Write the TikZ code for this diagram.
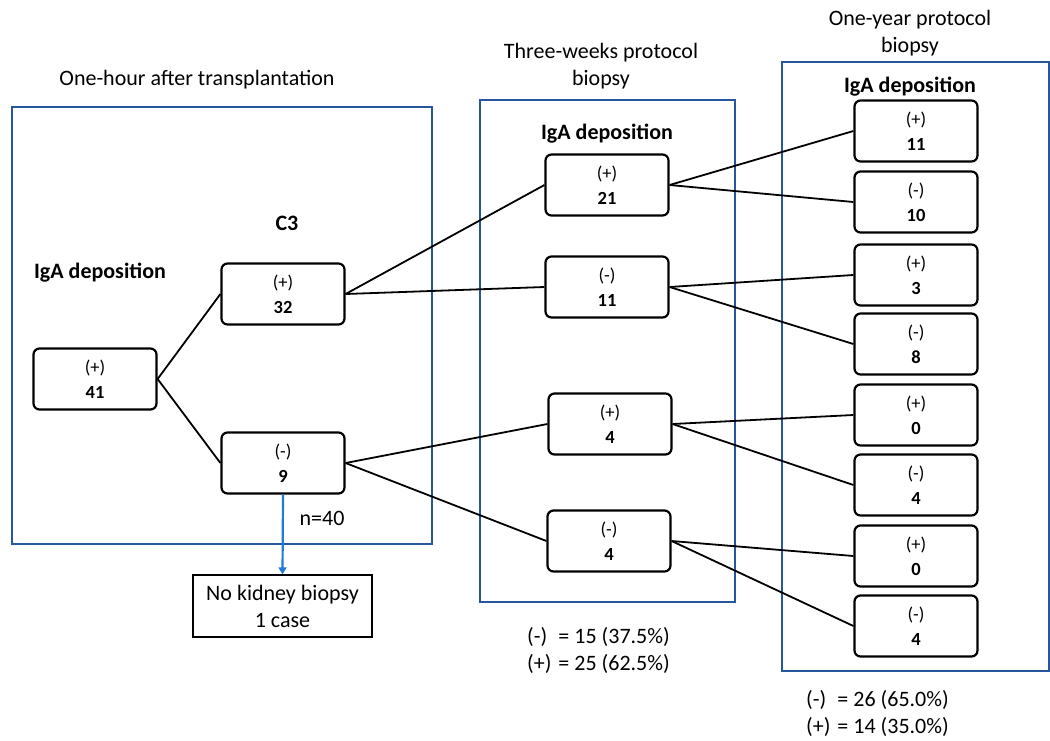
\documentclass[tikz,border=0pt]{standalone}
\usepackage{fontspec}
\setmainfont{Carlito}
\usetikzlibrary{positioning,arrows.meta}
\definecolor{frameblue}{RGB}{38,86,155}
\definecolor{arrowblue}{RGB}{35,122,212}

\begin{document}
\begin{tikzpicture}[x=1pt,y=-1pt,
  grp/.style={draw=frameblue,line width=2.2pt},
  cnt/.style={draw,rounded corners=6pt,line width=2.2pt,minimum width=123pt,minimum height=61pt,align=center,font=\fontsize{18.5}{25}\selectfont},
  lbl/.style={font=\fontsize{22}{27}\selectfont,align=center},
  hdr/.style={font=\fontsize{22}{27}\selectfont\bfseries},
  link/.style={line width=1.8pt}]
 \useasboundingbox (0,0) rectangle (1050,740);

 % frames
 \draw[grp] (12,107) rectangle (432,544);
 \draw[grp] (480,100) rectangle (735,602);
 \draw[grp] (782,62) rectangle (1049,671);

 \node[lbl] (t1) at (197,80) {One-hour after transplantation};
 \node[lbl] (t2) at (601,66) {Three-weeks protocol\\biopsy};
 \node[lbl] (t3) at (910,33) {One-year protocol\\biopsy};

 \node[hdr] (c3)   at (287,223) {C3};
 \node[hdr] (iga1) at (100,273) {IgA deposition};
 \node[hdr] (iga2) at (607,134) {IgA deposition};
 \node[hdr] (iga3) at (910,87)  {IgA deposition};

 % one hour
 \node[cnt] (41) at (95,379)  {(+)\\\textbf{41}};
 \node[cnt] (32) at (283,294) {(+)\\\textbf{32}};
 \node[cnt] (9)  at (283,463) {(-)\\\textbf{9}};
 \node[lbl] (n40) at (322,518) {n=40};
 \node[lbl,draw,line width=1.3pt,minimum width=179pt,minimum height=62pt] (nob) at (282.5,606) {No kidney biopsy\\1 case};

 % three weeks
 \node[cnt] (21) at (607,185) {(+)\\\textbf{21}};
 \node[cnt] (11) at (607,287) {(-)\\\textbf{11}};
 \node[cnt] (4p) at (610,424) {(+)\\\textbf{4}};
 \node[cnt] (4m) at (609,541) {(-)\\\textbf{4}};

 % one year
 \node[cnt] (y11) at (916,131) {(+)\\\textbf{11}};
 \node[cnt] (y10) at (916,202) {(-)\\\textbf{10}};
 \node[cnt] (y3)  at (916,275) {(+)\\\textbf{3}};
 \node[cnt] (y8)  at (916,344) {(-)\\\textbf{8}};
 \node[cnt] (y0a) at (916,415) {(+)\\\textbf{0}};
 \node[cnt] (y4a) at (916,485) {(-)\\\textbf{4}};
 \node[cnt] (y0b) at (916,556) {(+)\\\textbf{0}};
 \node[cnt] (y4b) at (916,626) {(-)\\\textbf{4}};

 % totals
 \node[lbl,anchor=west,inner sep=0pt] (s2) at (527,652) {\begin{tabular}{@{}l@{\hspace{7pt}}l@{}}(-) & = 15 (37.5\%)\\(+) & = 25 (62.5\%)\end{tabular}};
 \node[lbl,anchor=west,inner sep=0pt] (s3) at (806,715) {\begin{tabular}{@{}l@{\hspace{7pt}}l@{}}(-) & = 26 (65.0\%)\\(+) & = 14 (35.0\%)\end{tabular}};

 \draw[link] (41.east) -- (32.west);
 \draw[link] (41.east) -- (9.west);
 \draw[link] (32.east) -- (21.west);
 \draw[link] (32.east) -- (11.west);
 \draw[link] (9.east)  -- (4p.west);
 \draw[link] (9.east)  -- (4m.west);
 \draw[link] (21.east) -- (y11.west);
 \draw[link] (21.east) -- (y10.west);
 \draw[link] (11.east) -- (y3.west);
 \draw[link] (11.east) -- (y8.west);
 \draw[link] (4p.east) -- (y0a.west);
 \draw[link] (4p.east) -- (y4a.west);
 \draw[link] (4m.east) -- (y0b.west);
 \draw[link] (4m.east) -- (y4b.west);
 \draw[arrowblue,line width=2.2pt,-{Triangle[width=8pt,length=7pt]}] (9.south) -- (nob.north);

\end{tikzpicture}
\end{document}
